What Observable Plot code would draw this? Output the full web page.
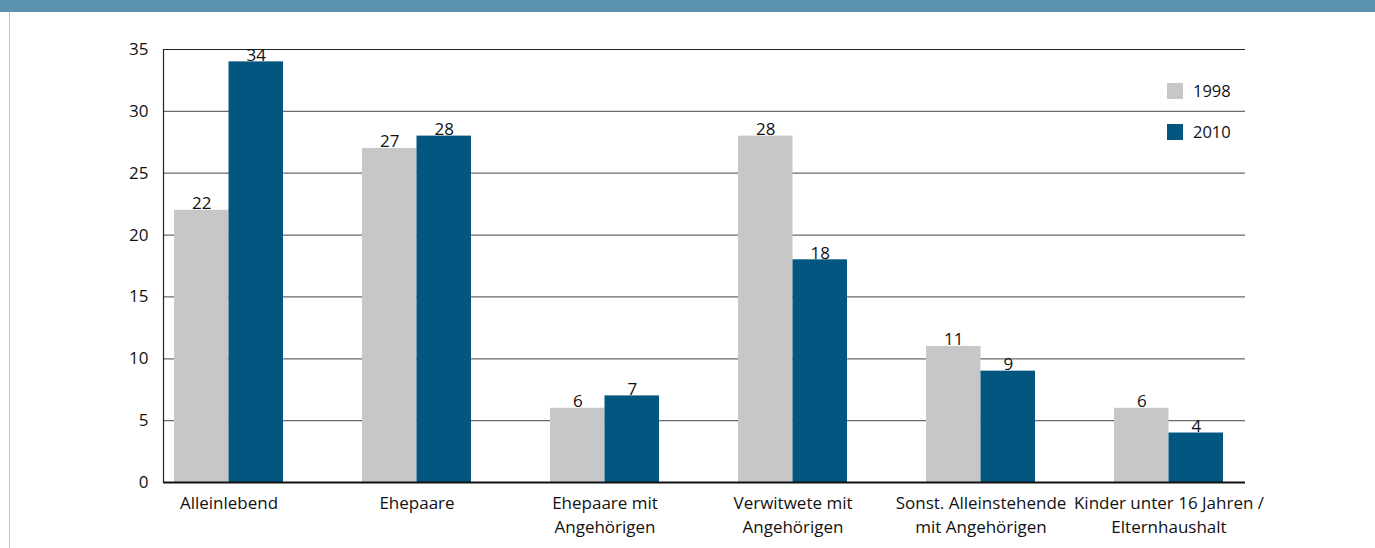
<!DOCTYPE html>
<html>
<head>
<meta charset="utf-8">
<script src="https://cdn.jsdelivr.net/npm/d3@7"></script>
<script src="https://cdn.jsdelivr.net/npm/@observablehq/plot@0.6"></script>
<style>
  html, body { margin: 0; padding: 0; background: #fff; }
  #page { position: relative; width: 1375px; height: 548px; overflow: hidden; font-family: "Open Sans", sans-serif; }
  #banner { position: absolute; left: 0; top: 0; width: 1375px; height: 12px; background: #5b93ae; }
  #border { position: absolute; left: 9px; top: 12px; width: 1px; height: 536px; background: #a9c8da; }
  #chart { position: absolute; left: 0; top: 12px; }
  #legend { position: absolute; left: 1167px; top: 83px; font-size: 16.5px; color: #111; }
  .item { position: relative; height: 16px; margin-bottom: 25px; }
  .sw { position: absolute; left: 0; top: 0; width: 16px; height: 16px; }
  .lb { position: absolute; left: 26px; top: -3px; line-height: 22px; white-space: nowrap; }
</style>
</head>
<body>
<div id="page">
  <div id="banner"></div>
  <div id="border"></div>
  <div id="chart"></div>
  <div id="legend"></div>
</div>
<script>
const categories = [
  "Alleinlebend",
  "Ehepaare",
  "Ehepaare mit\nAngehörigen",
  "Verwitwete mit\nAngehörigen",
  "Sonst. Alleinstehende\nmit Angehörigen",
  "Kinder unter 16 Jahren /\nElternhaushalt"
];
const series = ["1998", "2010"];
const values1998 = [22, 27, 6, 28, 11, 6];
const values2010 = [34, 28, 7, 18, 9, 4];
const yTicks = [0, 5, 10, 15, 20, 25, 30, 35];
const colors = ["#c6c7c6", "#03567f"];

const d1998 = categories.map((c, i) => ({cat: c, value: values1998[i]}));
const d2010 = categories.map((c, i) => ({cat: c, value: values2010[i]}));

const half = 54.5;
const fs = 17;

const chart = Plot.plot({
  width: 1375,
  height: 536,
  marginTop: 37,
  marginBottom: 66,
  marginLeft: 163,
  marginRight: 130,
  style: {fontFamily: "Open Sans, sans-serif", fontSize: fs + "px", color: "#111", background: "transparent"},
  x: {type: "band", domain: categories, paddingInner: 0.42, paddingOuter: 0, insetLeft: 9, insetRight: 20, label: null},
  y: {domain: [0, 35], label: null},
  marks: [
    Plot.ruleY(yTicks.filter(d => d > 0 && d < 35), {stroke: "#6a6a6a", strokeWidth: 1.2}),
    Plot.ruleY([35], {stroke: "#222", strokeWidth: 1.2}),
    Plot.barY(d1998, {x: "cat", y: "value", fill: colors[0], insetRight: half}),
    Plot.barY(d2010, {x: "cat", y: "value", fill: colors[1], insetLeft: half}),
    Plot.text(d1998, {x: "cat", y: "value", text: d => String(d.value), dx: -half / 2, lineAnchor: "bottom", dy: -1, fontSize: fs, fill: "#111"}),
    Plot.text(d2010, {x: "cat", y: "value", text: d => String(d.value), dx: half / 2, lineAnchor: "bottom", dy: -1, fontSize: fs, fill: "#111"}),
    Plot.ruleY([0], {stroke: "#111", strokeWidth: 2}),
    Plot.frame({anchor: "left", stroke: "#222", strokeWidth: 1.2}),
    Plot.axisY({ticks: yTicks, tickSize: 0, tickPadding: 15, fontSize: fs, label: null}),
    Plot.axisX({tickSize: 0, tickPadding: 10, fontSize: fs, lineHeight: 1.38, label: null})
  ]
});
document.getElementById("chart").appendChild(chart);

const legend = document.getElementById("legend");
series.forEach((s, i) => {
  const item = document.createElement("div");
  item.className = "item";
  item.innerHTML = `<div class="sw" style="background:${colors[i]}"></div><div class="lb">${s}</div>`;
  legend.appendChild(item);
});
</script>
</body>
</html>
